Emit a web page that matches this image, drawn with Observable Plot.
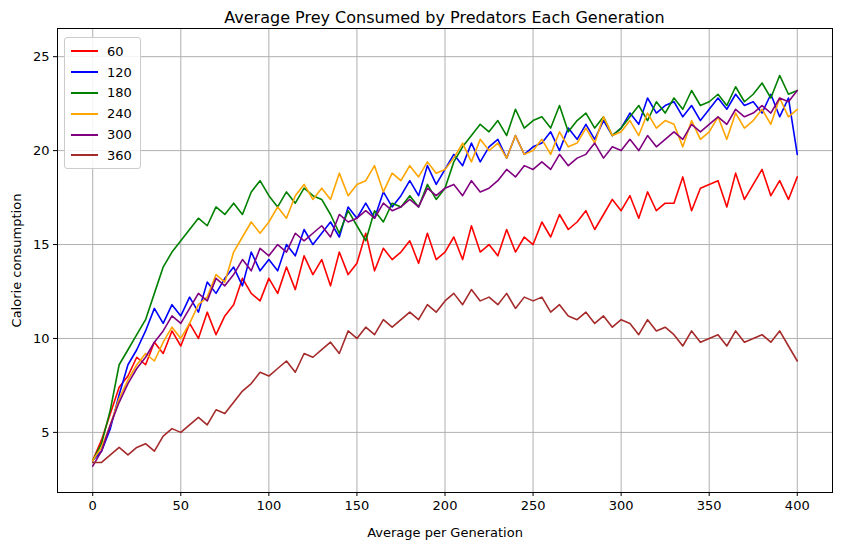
<!DOCTYPE html>
<html><head><meta charset="utf-8">
<script src="https://cdn.jsdelivr.net/npm/d3@7"></script>
<script src="https://cdn.jsdelivr.net/npm/@observablehq/plot@0.6"></script>
<style>
body{margin:0;font-family:"DejaVu Sans",sans-serif;background:#fff}
#wrap{position:relative;width:841px;height:547px}
#title{position:absolute;top:8px;left:57px;width:775px;text-align:center;font-size:16px}
#legend{position:absolute;left:64px;top:37px;border:1px solid #ccc;border-radius:3px;background:rgba(255,255,255,0.85);padding:3px 8px 2px 6px;font-size:13px}
#legend div{display:flex;align-items:center;height:20.8px}
#legend span{display:inline-block;width:27px;height:2px;margin-right:9px}
</style></head>
<body><div id="wrap"><div id="chart"></div><div id="title">Average Prey Consumed by Predators Each Generation</div><div id="legend"></div></div>
<script>
const generations = d3.range(0, 401, 5)
const seriesNames = ['60', '120', '180', '240', '300', '360']
const colors = ['red', 'blue', 'green', 'orange', 'purple', 'brown']

const red = [3.5,
  4.6,6.0,7.4,8.0,9.0, 8.6,9.8,9.2,10.4,9.6, 10.8,10.0,11.4,10.2,11.2, 11.8,13.2,12.4,12.0,13.2,
  12.4,13.8,12.6,14.4,13.4, 14.2,12.8,14.6,13.4,14.0, 15.6,13.6,14.8,14.2,14.6, 15.2,14.0,15.6,14.2,14.6,
  15.4,14.2,16.0,14.6,15.0, 14.4,15.8,14.6,15.4,15.0, 16.2,15.4,16.6,15.8,16.2, 16.8,15.8,16.6,17.4,16.8,
  17.6,16.4,17.8,16.8,17.2, 17.2,18.6,16.8,18.0,18.2, 18.4,17.0,18.8,17.4,18.2, 19.0,17.6,18.4,17.4,18.6]
const blue = [3.5,
  4.0,5.2,7.0,8.6,9.4, 10.4,11.6,10.8,11.8,11.2, 12.2,11.4,13.0,12.4,13.2, 13.8,12.8,14.6,13.6,14.2,
  13.6,15.0,14.4,15.8,15.0, 15.6,16.2,15.4,17.0,16.4, 17.2,16.4,17.8,17.0,17.6, 18.4,17.6,19.2,18.2,19.0,
  19.8,19.2,20.4,19.4,20.2, 20.6,19.6,20.8,19.8,20.2, 20.4,21.0,20.0,21.2,20.6, 21.4,20.6,21.6,20.8,21.2,
  22.0,21.4,22.8,22.0,22.4, 22.6,21.8,22.4,21.6,22.2, 22.8,22.2,23.0,22.4,22.6, 22.0,23.0,21.8,22.8,19.8]
const green = [3.5,
  4.4,6.2,8.6,9.4,10.2, 11.0,12.4,13.8,14.6,15.2, 15.8,16.4,16.0,17.0,16.6, 17.2,16.6,17.8,18.4,17.6,
  17.0,17.8,17.2,18.0,17.6, 17.4,16.6,15.6,16.8,16.0, 15.2,16.8,16.2,17.2,17.0, 17.6,17.0,18.2,17.4,18.0,
  19.4,20.2,20.8,21.4,21.0, 21.6,20.8,22.2,21.2,21.6, 21.8,21.2,22.4,21.0,21.6, 22.0,21.2,21.8,20.8,21.2,
  21.8,22.4,21.6,22.6,22.0, 22.8,22.2,23.2,22.4,22.6, 23.0,22.4,23.4,22.6,23.0, 23.6,22.8,24.0,23.0,23.2]
const orange = [3.5,
  4.2,5.4,6.8,7.8,8.6, 9.2,8.8,9.8,10.6,10.0, 10.8,11.8,12.2,13.4,13.0, 14.6,15.4,16.2,15.6,16.2,
  17.0,16.4,17.6,18.2,17.4, 18.0,17.4,18.8,17.6,18.2, 18.4,19.2,17.8,18.8,18.4, 19.2,18.6,19.4,18.8,19.0,
  19.6,20.4,19.4,20.6,20.0, 20.4,19.6,20.8,19.8,20.0, 20.6,19.8,21.0,20.2,20.4, 21.2,20.4,21.8,20.8,21.0,
  21.6,20.8,22.0,21.2,21.6, 21.4,20.2,21.6,20.6,21.0, 21.8,20.6,22.0,21.2,21.6, 22.2,21.4,22.8,21.8,22.2]
const purple = [3.2,
  4.0,5.4,6.6,7.6,8.4, 9.0,9.8,10.4,11.2,10.8, 11.6,12.4,12.0,13.2,12.8, 13.4,14.2,13.6,14.8,14.4,
  15.0,14.6,15.6,15.2,15.6, 16.0,15.4,16.6,16.2,16.4, 16.8,16.4,17.2,16.8,17.0, 17.4,17.0,18.0,17.6,18.0,
  18.2,17.6,18.4,17.8,18.0, 18.4,19.0,18.6,19.2,19.0, 19.4,19.0,19.8,19.2,19.6, 19.8,20.4,19.6,20.2,20.0,
  20.6,20.0,20.8,20.2,20.6, 21.0,20.6,21.4,21.0,21.4, 21.8,21.4,22.2,21.8,22.0, 22.4,22.0,22.8,22.6,23.2]
const brown = [3.4,
  3.4,3.8,4.2,3.8,4.2, 4.4,4.0,4.8,5.2,5.0, 5.4,5.8,5.4,6.2,6.0, 6.6,7.2,7.6,8.2,8.0,
  8.4,8.8,8.2,9.2,9.0, 9.4,9.8,9.2,10.4,10.0, 10.6,10.2,11.0,10.6,11.0, 11.4,11.0,11.8,11.4,12.0,
  12.4,11.8,12.6,12.0,12.2, 11.8,12.4,11.6,12.2,12.0, 12.2,11.4,11.8,11.2,11.0, 11.4,10.8,11.2,10.6,11.0,
  10.8,10.2,11.0,10.4,10.6, 10.2,9.6,10.4,9.8,10.0, 10.2,9.6,10.4,9.8,10.0, 10.2,9.8,10.4,9.6,8.8]

const allSeries = [red, blue, green, orange, purple, brown]
const rows = allSeries.flatMap((vals, i) => vals.map((v, j) => ({gen: generations[j], value: v, series: seriesNames[i]})))

const chart = Plot.plot({
  width: 841, height: 547,
  marginLeft: 57, marginRight: 9, marginTop: 28, marginBottom: 55,
  style: {fontFamily: '"DejaVu Sans", sans-serif', fontSize: '13px', color: 'black'},
  x: {domain: [-20, 420]},
  y: {domain: [1.8, 26.5]},
  color: {domain: seriesNames, range: colors},
  marks: [
    Plot.gridX([0, 50, 100, 150, 200, 250, 300, 350, 400], {stroke: '#b0b0b0', strokeOpacity: 1}),
    Plot.gridY([5, 10, 15, 20, 25], {stroke: '#b0b0b0', strokeOpacity: 1}),
    Plot.axisX([0, 50, 100, 150, 200, 250, 300, 350, 400], {tickSize: 4, tickPadding: 4, label: 'Average per Generation', labelAnchor: 'center', labelArrow: 'none', labelOffset: 44}),
    Plot.axisY([5, 10, 15, 20, 25], {tickSize: 4, tickPadding: 4, label: 'Calorie consumption', labelAnchor: 'center', labelArrow: 'none', labelOffset: 46}),
    Plot.line(rows, {x: 'gen', y: 'value', z: 'series', stroke: 'series', strokeWidth: 1.6}),
    Plot.frame({stroke: 'black'})
  ]
})
d3.select('#chart').append(() => chart)

const legend = d3.select('#legend')
seriesNames.forEach((n, i) => {
  const row = legend.append('div')
  row.append('span').style('background', colors[i])
  row.append('text').text(n)
})
</script></body></html>
